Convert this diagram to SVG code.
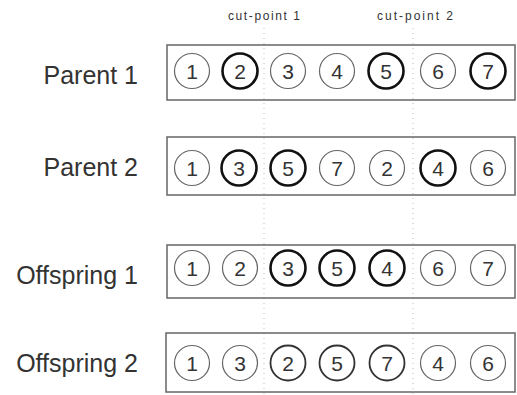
<svg xmlns="http://www.w3.org/2000/svg" width="517" height="395" viewBox="0 0 517 395">
<style>
.lbl{font-family:"Liberation Sans",Arial,sans-serif;font-size:25px;fill:#333;text-anchor:end}
.cut{font-family:"Liberation Sans",Arial,sans-serif;font-size:12px;fill:#333;text-anchor:middle}
.box{fill:none;stroke:#666;stroke-width:1.5}
.c{fill:#fff;stroke:#666;stroke-width:1.2}
.b{fill:#fff;stroke:#111;stroke-width:2.6}
.m{fill:#fff;stroke:#333;stroke-width:1.8}
.n{font-family:"Liberation Sans",Arial,sans-serif;font-size:21px;fill:#333;text-anchor:middle}
.cl{stroke:#bbb;stroke-width:1;stroke-dasharray:1 4;fill:none}
</style>
<g id="connectors">
<line class="cl" x1="264" y1="28" x2="264" y2="395"/>
<line class="cl" x1="413" y1="28" x2="413" y2="395"/>
</g>
<g id="cutpoints">
<text class="cut" x="264" y="20" textLength="72" lengthAdjust="spacing">cut-point 1</text>
<text class="cut" x="415" y="20" textLength="76" lengthAdjust="spacing">cut-point 2</text>
</g>
<g id="parent1">
<text class="lbl" x="138" y="84">Parent 1</text>
<rect class="box" x="167" y="45" width="348" height="55"/>
<circle class="c" cx="192" cy="71" r="17.5"/><text class="n" x="192" y="79">1</text>
<circle class="b" cx="240" cy="71" r="17.5"/><text class="n" x="240" y="79">2</text>
<circle class="c" cx="288" cy="71" r="17.5"/><text class="n" x="288" y="79">3</text>
<circle class="c" cx="337" cy="71" r="17.5"/><text class="n" x="337" y="79">4</text>
<circle class="b" cx="386" cy="71" r="17.5"/><text class="n" x="386" y="79">5</text>
<circle class="c" cx="438" cy="71" r="17.5"/><text class="n" x="438" y="79">6</text>
<circle class="b" cx="488" cy="71" r="17.5"/><text class="n" x="488" y="79">7</text>
</g>
<g id="parent2">
<text class="lbl" x="138" y="176">Parent 2</text>
<rect class="box" x="167" y="137" width="348" height="58"/>
<circle class="c" cx="192" cy="168" r="17.5"/><text class="n" x="192" y="176">1</text>
<circle class="b" cx="239" cy="168" r="17.5"/><text class="n" x="239" y="176">3</text>
<circle class="b" cx="288" cy="168" r="17.5"/><text class="n" x="288" y="176">5</text>
<circle class="c" cx="337" cy="168" r="17.5"/><text class="n" x="337" y="176">7</text>
<circle class="c" cx="387" cy="168" r="17.5"/><text class="n" x="387" y="176">2</text>
<circle class="b" cx="438" cy="168" r="17.5"/><text class="n" x="438" y="176">4</text>
<circle class="c" cx="488" cy="168" r="17.5"/><text class="n" x="488" y="176">6</text>
</g>
<g id="offspring1">
<text class="lbl" x="138" y="284">Offspring 1</text>
<rect class="box" x="167" y="245" width="348" height="53"/>
<circle class="c" cx="192" cy="268" r="17.5"/><text class="n" x="192" y="276">1</text>
<circle class="c" cx="240" cy="268" r="17.5"/><text class="n" x="240" y="276">2</text>
<circle class="b" cx="288" cy="268" r="17.5"/><text class="n" x="288" y="276">3</text>
<circle class="b" cx="337" cy="268" r="17.5"/><text class="n" x="337" y="276">5</text>
<circle class="b" cx="387" cy="268" r="17.5"/><text class="n" x="387" y="276">4</text>
<circle class="c" cx="438" cy="268" r="17.5"/><text class="n" x="438" y="276">6</text>
<circle class="c" cx="488" cy="268" r="17.5"/><text class="n" x="488" y="276">7</text>
</g>
<g id="offspring2">
<text class="lbl" x="138" y="372">Offspring 2</text>
<rect class="box" x="166" y="333" width="349" height="59"/>
<circle class="c" cx="192" cy="363" r="17.5"/><text class="n" x="192" y="371">1</text>
<circle class="c" cx="240" cy="363" r="17.5"/><text class="n" x="240" y="371">3</text>
<circle class="m" cx="288" cy="363" r="17.5"/><text class="n" x="288" y="371">2</text>
<circle class="m" cx="337" cy="363" r="17.5"/><text class="n" x="337" y="371">5</text>
<circle class="m" cx="387" cy="363" r="17.5"/><text class="n" x="387" y="371">7</text>
<circle class="c" cx="438" cy="363" r="17.5"/><text class="n" x="438" y="371">4</text>
<circle class="c" cx="488" cy="363" r="17.5"/><text class="n" x="488" y="371">6</text>
</g>
</svg>
